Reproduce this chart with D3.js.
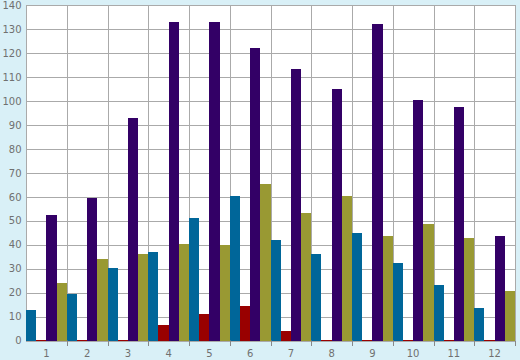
<!DOCTYPE html>
<html><head><meta charset="utf-8">
<script src="https://cdn.jsdelivr.net/npm/d3@7"></script>
<style>html,body{margin:0;padding:0;background:#d9f0f7;}svg{display:block;}</style>
</head><body>
<svg id="c" width="520" height="360"></svg>
<script>
const categories = ["1","2","3","4","5","6","7","8","9","10","11","12"];
const seriesNames = ["blue","red","purple","olive"];
const blueValues   = [12.7, 19.3, 30.1, 36.8, 51.0, 60.1, 41.8, 36.0, 44.7, 32.2, 23.0, 13.6];
const redValues    = [0.4, 0.4, 0.4, 6.4, 11.0, 14.4, 3.9, 0.4, 0.4, 0.4, 0.4, 0.4];
const purpleValues = [52.2, 59.3, 93.0, 133.0, 133.0, 122.2, 113.5, 105.1, 132.0, 100.5, 97.6, 43.5];
const oliveValues  = [23.9, 33.9, 36.0, 40.1, 39.7, 65.5, 53.0, 60.5, 43.5, 48.5, 42.6, 20.5];
const yTicks = [0,10,20,30,40,50,60,70,80,90,100,110,120,130,140];

const colors = {blue:"#006699", red:"#990000", purple:"#330066", olive:"#999933"};
const seriesData = {blue:blueValues, red:redValues, purple:purpleValues, olive:oliveValues};

const svg = d3.select("#c");
const L = 26, R = 515, T = 5, B = 340.5;

const x0 = d3.scaleBand().domain(categories).range([L, R]).padding(0);
const x1 = d3.scaleBand().domain(seriesNames).range([0, x0.bandwidth()]).padding(0);
const y = d3.scaleLinear().domain([0, 140]).range([B, T]);

// plot background
svg.append("rect").attr("x", L).attr("y", T).attr("width", R - L).attr("height", B - T).attr("fill", "#ffffff");

// grid
const g = svg.append("g");
g.selectAll("line.h").data(yTicks).enter().append("line")
  .attr("x1", L).attr("x2", R)
  .attr("y1", d => Math.round(y(d)) + 0.5).attr("y2", d => Math.round(y(d)) + 0.5)
  .attr("stroke", "#aaaaaa").attr("stroke-width", 1);
const vlines = categories.map((c) => x0(c)).concat([R]);
g.selectAll("line.v").data(vlines).enter().append("line")
  .attr("x1", d => Math.round(d) + 0.5).attr("x2", d => Math.round(d) + 0.5)
  .attr("y1", T).attr("y2", B)
  .attr("stroke", "#aaaaaa").attr("stroke-width", 1);

// bars
const groups = svg.append("g").selectAll("g").data(categories).enter().append("g")
  .attr("transform", c => `translate(${x0(c)},0)`);
groups.selectAll("rect").data((c, i) => seriesNames.map(s => ({s, v: seriesData[s][i]}))).enter().append("rect")
  .attr("x", d => x1(d.s))
  .attr("width", x1.bandwidth())
  .attr("y", d => y(d.v))
  .attr("height", d => B - y(d.v))
  .attr("fill", d => colors[d.s])
  .attr("shape-rendering", "crispEdges");

// x axis ticks
svg.append("g").selectAll("line").data(categories.slice(1).map(c => x0(c)).concat([R])).enter().append("line")
  .attr("x1", d => Math.round(d) + 0.5).attr("x2", d => Math.round(d) + 0.5)
  .attr("y1", B).attr("y2", B + 5.5)
  .attr("stroke", "#888888");

// x labels
svg.append("g").selectAll("text").data(categories).enter().append("text")
  .attr("x", c => x0(c) + x0.bandwidth() / 2)
  .attr("y", 356.5)
  .attr("text-anchor", "middle")
  .attr("font-family", "DejaVu Sans, Verdana, sans-serif")
  .attr("font-size", "10px")
  .attr("fill", "#707070")
  .text(c => c);

// y labels
svg.append("g").selectAll("text").data(yTicks).enter().append("text")
  .attr("x", 21.5)
  .attr("y", d => y(d) + 3.8)
  .attr("text-anchor", "end")
  .attr("font-family", "DejaVu Sans, Verdana, sans-serif")
  .attr("font-size", "10px")
  .attr("fill", "#707070")
  .text(d => d);
</script>
</body></html>
